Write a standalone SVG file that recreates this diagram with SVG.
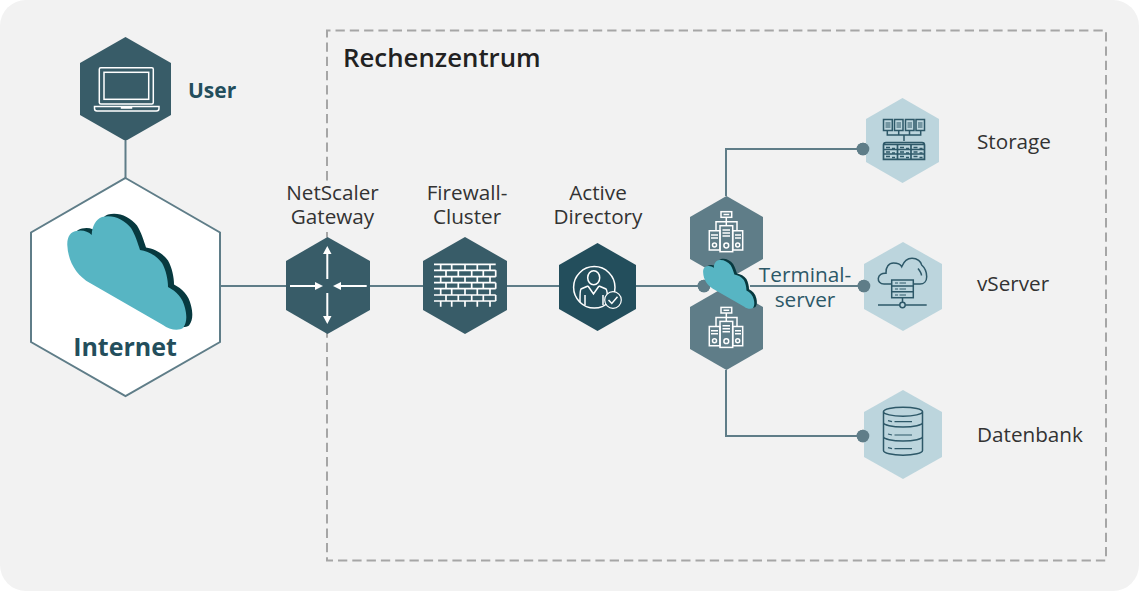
<svg xmlns="http://www.w3.org/2000/svg" xmlns:xlink="http://www.w3.org/1999/xlink" width="1139" height="591" viewBox="0 0 1139 591">
<style>
text{font-family:"Open Sans","Noto Sans",sans-serif}
.lab{font-size:20.700px;fill:#333}
.mid{text-anchor:middle}
.con{fill:none;stroke:#5f7d88;stroke-width:2}
.dot{fill:#5f7d88}
.dark{fill:#385c68}
.navy{fill:#234e5c}
.srv{fill:#5f7d88}
.pale{fill:#bcd5dd}
.wh{fill:none;stroke:#fff;stroke-width:1.500}
.ic{fill:none;stroke:#2d5868;stroke-width:1.500}
.bg{fill:#f2f2f2}
</style>
<defs>
<g id="cloud">
<path id="cloudDark" fill="#07393f" transform="translate(6,-2.500)" d="M67.300 245C67 236 71 232 76 231C82 229.500 88 231 91.700 235C92 226 96 219 102 217C112 214 124 219 131 228C135 234 138 244 140 250C148 251 157 256 162 263C166 270 168 280 168 287C176 291 183 298 185 308C187 316 187 323 183 328C179 331 169 330 163 325L90 283C77 276 68 262 67.300 245Z"/>
<path fill="#57b5c3" d="M67.300 245C67 236 71 232 76 231C82 229.500 88 231 91.700 235C92 226 96 219 102 217C112 214 124 219 131 228C135 234 138 244 140 250C148 251 157 256 162 263C166 270 168 280 168 287C176 291 183 298 185 308C187 316 187 323 183 328C179 331 169 330 163 325L90 283C77 276 68 262 67.300 245Z"/>
</g>
<g id="servers" class="wh">
<rect x="721" y="211.700" width="10.700" height="5.600"/>
<path d="M726.300 217.300V225.700M716 230.700V221.700H737V230.700M723.500 214.500H729.200"/>
<path d="M709.300 230.700H720V250H709.300ZM732.700 230.700H742.700V250H732.700Z"/>
<rect x="720" y="225.700" width="12.700" height="26"/>
<path d="M722.500 230H730M722.500 233H730M722.500 236H730M711 235H718M711 238H718M735 235H741M735 238H741"/>
<circle cx="726.300" cy="245.500" r="2.400"/><circle cx="714.500" cy="245" r="2"/><circle cx="737.700" cy="245" r="2"/>
</g>
</defs>

<rect width="1139" height="591" fill="#fff"/>
<rect width="1139" height="591" rx="26" class="bg"/>
<path d="M327 30.500V560.500H1106V30.500Z" fill="none" stroke="#a6a6a6" stroke-width="2" stroke-dasharray="9.300 5" stroke-dashoffset="2.400"/>

<g id="connectors">
<path class="con" d="M125.500 141V178M220 286H704M750 286H864M726 196V149H863M726 370V436H863"/>
<circle class="dot" cx="704" cy="286" r="6.300"/>
<circle class="dot" cx="863" cy="149" r="6.300"/>
<circle class="dot" cx="864" cy="286" r="6.300"/>
<circle class="dot" cx="863" cy="436" r="6.300"/>
</g>

<text x="343" y="67" font-size="25.800" font-weight="600" fill="#222">Rechenzentrum</text>

<g id="user">
<path class="dark" d="M125.500 37L171 63V115L125.500 141L80 115V63Z"/>
<path class="wh" d="M99.300 102.500V69.200Q99.300 67.700 100.800 67.700H151.800Q153.300 67.700 153.300 69.200V102.500Q153.300 104 151.800 104H100.800Q99.300 104 99.300 102.500Z"/>
<rect class="wh" x="104" y="72.300" width="44.700" height="27"/>
<path class="wh" d="M94.500 106.500H159V108.500Q159 111 156.500 111H97Q94.500 111 94.500 108.500ZM121.500 106.500V108H131.500V106.500"/>
<text x="188" y="98" font-size="21" font-weight="700" fill="#234e5c">User</text>
</g>

<g id="internet">
<path d="M125.500 178L220 232.500V342L125.500 396L31 342V232.500Z" fill="#fff" stroke="#5f7d88" stroke-width="2"/>
<use xlink:href="#cloud" href="#cloud"/>
<text class="mid" x="125" y="356" font-size="25" font-weight="700" fill="#234e5c">Internet</text>
</g>

<g id="gateway">
<rect class="bg" x="285" y="182" width="97" height="50"/>
<path class="dark" d="M327.500 237L370 261V310L327.500 334L286 310V261Z"/>
<path fill="none" stroke="#fff" stroke-width="2" d="M327.300 279V252M327.300 293V318M290 286H316M366.700 286H341"/>
<path fill="#fff" d="M327.300 246L331.500 254H323ZM327.300 324L331.500 316H323ZM323 286L315 282V290ZM333 286L341 282V290Z"/>
<text class="lab mid" x="332.500" y="200">NetScaler</text>
<text class="lab mid" x="332.500" y="224">Gateway</text>
</g>

<g id="firewall">
<path class="dark" d="M465 237L507 261V310L465 334L423 310V261Z"/>
<path fill="none" stroke="#fff" stroke-width="1.700" d="M434 264.300H495.700M434 270.300H495.700M434 276.700H495.700M434 282.700H495.700M434 288.700H495.700M434 295H495.700M434 301H495.700M440.700 264.300V270.300M451.700 264.300V270.300M465 264.300V270.300M477.300 264.300V270.300M490 264.300V270.300M446 270.300V276.700M458.300 270.300V276.700M471.700 270.300V276.700M483.300 270.300V276.700M495.700 270.300V276.700M440.700 276.700V282.700M451.700 276.700V282.700M465 276.700V282.700M477.300 276.700V282.700M490 276.700V282.700M446 282.700V288.700M458.300 282.700V288.700M471.700 282.700V288.700M483.300 282.700V288.700M495.700 282.700V288.700M440.700 288.700V295M451.700 288.700V295M465 288.700V295M477.300 288.700V295M490 288.700V295M446 295V301M458.300 295V301M471.700 295V301M483.300 295V301M495.700 295V301M440.700 301V306.700M451.700 301V306.700M465 301V306.700M477.300 301V306.700M490 301V306.700"/>
<text class="lab mid" x="467" y="200">Firewall-</text>
<text class="lab mid" x="467" y="224">Cluster</text>
</g>

<g id="active-directory">
<path class="navy" d="M597.500 243L636 265V309L597.500 331L559 309V265Z"/>
<circle class="wh" cx="594.300" cy="287.300" r="20.700" stroke-width="1.200"/>
<ellipse class="wh" cx="593.700" cy="277.700" rx="6" ry="7" stroke-width="1.200"/>
<path class="wh" stroke-width="1.200" d="M588 286L581 289Q580 290 580 300V302M599 286L606 289Q607 290 607.500 296M588 286L593.500 294L599 286M585 295V305M603 295V305"/>
<circle cx="613" cy="300" r="8.300" fill="#234e5c" stroke="#fff" stroke-width="1.200"/>
<path class="wh" stroke-width="1.200" d="M608.500 300L611.800 303.500L617.500 296.800"/>
<text class="lab mid" x="598" y="200">Active</text>
<text class="lab mid" x="598" y="224">Directory</text>
</g>

<g id="terminal-server">
<path class="srv" d="M726.500 196L763 217V259L726.500 280L690 259V217Z"/>
<use xlink:href="#servers" href="#servers"/>
<path class="srv" d="M726.500 286L763 307V349L726.500 370L690 349V307Z"/>
<use xlink:href="#servers" href="#servers" transform="translate(0,95.700)"/>
<circle class="dot" cx="704" cy="286" r="6.300"/>
<use xlink:href="#cloud" href="#cloud" transform="translate(674.200,167) scale(.43)"/>
<text x="805" y="282" class="mid" font-size="20.800" fill="#2d5868">Terminal-</text>
<text x="805" y="307" class="mid" font-size="20.800" fill="#2d5868">server</text>
</g>

<g id="storage">
<path class="pale" d="M902.500 98L939 119V162L902.500 183L866 162V119Z"/>
<circle class="dot" cx="863" cy="149" r="6.300"/>
<g class="ic" stroke-width="1.800">
<rect x="883.500" y="119.500" width="8.800" height="11"/><rect x="894.500" y="119.500" width="8.500" height="11"/><rect x="905.500" y="119.500" width="8.500" height="11"/><rect x="916" y="119.500" width="8.500" height="11"/>
<path d="M885.500 123H890.500M885.500 125H890.500M885.500 127H890.500M896.500 123H901M896.500 125H901M896.500 127H901M907.500 123H912M907.500 125H912M907.500 127H912M918 123H922.500M918 125H922.500M918 127H922.500" stroke-width="1"/>
<path d="M887.300 130.500V135H920.700V130.500M898.700 130.500V135M909.500 130.500V135M904 135V141"/>
<path stroke-width="1.700" d="M883.500 159.300V145Q883.500 142.500 886 142.500H922Q924.500 142.500 924.500 145V159.300ZM883.500 144.500H924.500M883.500 149.500H924.500M883.500 154H924.500M897.500 144.500V159.300M911 144.500V159.300"/>
<path stroke-width="1.300" d="M886 147.500H890M892 148.500H895M900 147.500H904M906 148.500H909M913.500 147.500H917.500M919.500 148.500H922.500M886 152H890M892 153H895M900 152H904M906 153H909M913.500 152H917.500M919.500 153H922.500M886 156.500H890M892 157.500H895M900 156.500H904M906 157.500H909M913.500 156.500H917.500M919.500 157.500H922.500"/>
</g>
<text class="lab" x="977" y="149">Storage</text>
</g>

<g id="vserver">
<path class="pale" d="M903 242L942 264V309L903 331L864 309V264Z"/>
<circle class="dot" cx="864" cy="286" r="6.300"/>
<g class="ic">
<path d="M891.700 284H884C880 284 878 281 878.300 278.300C878.600 275 882 273 886 273.300C885.500 267 889 263 893.500 263C897 263 900.500 264.500 901.700 266.700C904 261 908 258.300 912 258.300C917.500 258.300 921 261.500 921.700 265C925 268 926.700 272 926.700 276.700C926.700 281 924 284 920 284H913.300"/>
<path d="M918 268.500C920 271 921.500 273 921.500 275.500"/>
<rect x="891.700" y="280" width="21.600" height="17.700"/>
<path d="M891.700 286H913.300M891.700 291.800H913.300M902.500 297.700V302.300M878 305H899.800M905.200 305H926.700"/>
<circle cx="902.500" cy="305" r="2.700"/>
<path stroke-width="1" d="M895 283H898M899.500 283H906M895 289H898M899.500 289H906M895 295H898M899.500 295H906"/>
</g>
<text class="lab" x="977" y="291">vServer</text>
</g>

<g id="datenbank">
<path class="pale" d="M903 390L942 412V457L903 479L864 457V412Z"/>
<circle class="dot" cx="863" cy="436" r="6.300"/>
<g class="ic">
<ellipse cx="903" cy="411.700" rx="19.500" ry="4.500"/>
<path d="M883.500 411.700V450.500C883.500 453 892 455.200 903 455.200C914 455.200 922.500 453 922.500 450.500V411.700M883.500 422.500C883.500 425 892 427 903 427C914 427 922.500 425 922.500 422.500M883.500 436.500C883.500 439 892 441 903 441C914 441 922.500 439 922.500 436.500"/>
<path d="M888 420.700L892 421.700M894.500 421.700H912M888 434L892 435M894.500 435H912M888 447.700L892 448.700M894.500 448.700H912" stroke-width="1.200"/>
</g>
<text class="lab" x="977" y="442">Datenbank</text>
</g>
</svg>
